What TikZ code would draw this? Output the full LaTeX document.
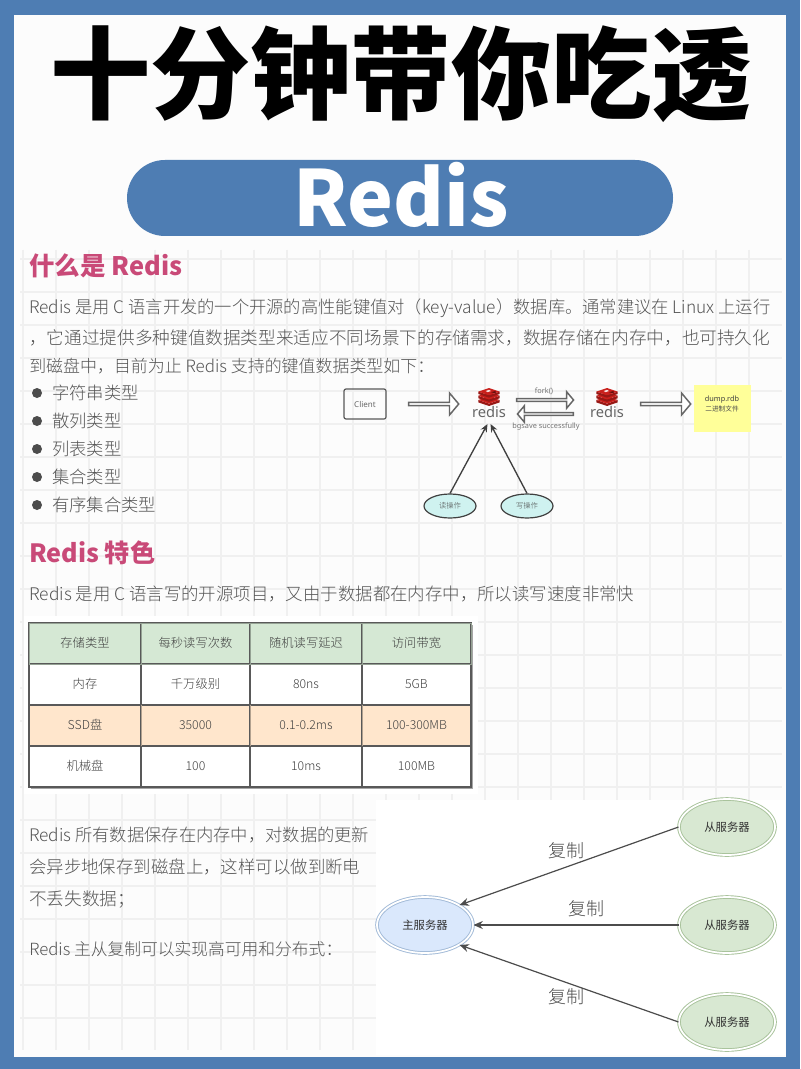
\documentclass[tikz,border=0pt]{standalone}
\usepackage{fontspec}
\setmainfont{Noto Sans CJK SC}
\newcommand{\cjkbold}{\bfseries}
\newfontfamily\cjklight{Noto Sans CJK SC Light}
\newfontfamily\latsans{Noto Sans}
\usetikzlibrary{shapes.geometric,shapes.arrows,arrows.meta,shapes.misc}
\definecolor{frameblue}{HTML}{4E7DB3}
\definecolor{pagewhite}{HTML}{FCFCFC}
\definecolor{gridc}{HTML}{F0F0F0}
\definecolor{pink}{HTML}{C94A78}
\definecolor{bodyc}{HTML}{555555}
\definecolor{hdrgreen}{HTML}{D5E8D4}
\definecolor{ssdorange}{HTML}{FFE6CC}
\definecolor{tealc}{HTML}{CFF2F0}
\definecolor{notey}{HTML}{FFFF99}
\definecolor{mastf}{HTML}{DAE8FC}
\definecolor{mastd}{HTML}{A3BBD8}
\definecolor{slavef}{HTML}{D8E8D2}
\definecolor{slaved}{HTML}{A9C39C}
\definecolor{redisred}{HTML}{C9201C}
\newcommand{\fitw}[2]{\resizebox{\dimexpr #1pt*3/4\relax}{!}{#2}}
\tikzset{
  px/.style={x=0.75pt,y=-0.75pt},
  bodytext/.style={anchor=west,inner sep=0pt,text=bodyc,font=\cjklight\fontsize{13}{13}\selectfont},
  heading/.style={anchor=west,inner sep=0pt,text=pink,font=\cjkbold\fontsize{19}{19}\selectfont},
  cell/.style={inner sep=0pt,text=black!75,font=\cjklight\fontsize{9.2}{10}\selectfont},
  tline/.style={draw=black!65,line width=0.9pt},
  hollow/.style={single arrow,draw=black!60,fill=white,line width=1.1pt,inner sep=0pt,minimum height=#1*0.75pt,minimum width=16.5pt,single arrow head extend=3pt,single arrow tip angle=100},
  redisword/.style={inner sep=0pt,text=black!60,font=\latsans\fontsize{11}{11}\selectfont},
  smalllab/.style={inner sep=0pt,text=black!55,font=\latsans\fontsize{5.5}{6}\selectfont},
  oval/.style={ellipse,draw=black!75,fill=tealc,line width=0.9pt,minimum width=39pt,minimum height=18pt,inner sep=0pt,text=black!70,font=\cjklight\fontsize{5.5}{6}\selectfont},
  master/.style={ellipse,double,double distance=1.3pt,draw=mastd,fill=mastf,line width=0.7pt,minimum width=72pt,minimum height=42pt,inner sep=0pt,text=black!80,font=\fontsize{8.5}{9}\selectfont},
  slave/.style={ellipse,double,double distance=1.3pt,draw=slaved,fill=slavef,line width=0.7pt,minimum width=72pt,minimum height=42pt,inner sep=0pt,text=black!80,font=\fontsize{8.5}{9}\selectfont},
  replic/.style={draw=black!70,line width=0.9pt,-{Stealth[length=7pt,width=6pt]}},
  readline/.style={draw=black!75,line width=1pt,-{Stealth[length=6pt,width=5pt]}},
  replab/.style={inner sep=0pt,text=black!70,font=\cjklight\fontsize{13.5}{14}\selectfont},
  bulletdot/.style={circle,fill=black!70,inner sep=0pt,minimum size=7.5pt},
}
\newcommand{\redislogo}[2]{%
  \begin{scope}[shift={(#1,#2)},x=0.5pt,y=-0.45pt]
    \fill[redisred!75!black] (-16,9) -- (0,15) -- (16,9) -- (16,5) -- (0,11) -- (-16,5) -- cycle;
    \fill[redisred] (-16,5) -- (0,-1) -- (16,5) -- (0,11) -- cycle;
    \fill[redisred!75!black] (-16,2) -- (0,8) -- (16,2) -- (16,-2) -- (0,4) -- (-16,-2) -- cycle;
    \fill[redisred] (-16,-2) -- (0,-8) -- (16,-2) -- (0,4) -- cycle;
    \fill[redisred!75!black] (-16,-5) -- (0,1) -- (16,-5) -- (16,-9) -- (0,-3) -- (-16,-9) -- cycle;
    \fill[redisred] (-16,-9) -- (0,-15) -- (16,-9) -- (0,-3) -- cycle;
    \fill[white!85!redisred] (-5,-10) -- (0,-12) -- (3,-10) -- (-2,-8) -- cycle;
    \fill[redisred!50!black] (3,-8) -- (10,-10) -- (10,-6) -- cycle;
  \end{scope}}
\begin{document}
\begin{tikzpicture}[px]
\useasboundingbox (0,0) rectangle (800,1069);
\fill[frameblue] (0,0) rectangle (800,1069);
\fill[pagewhite] (14,15) rectangle (786,1057);
% grid
\foreach \gx in {23,56,...,780} \draw[gridc,line width=0.8pt] (\gx,250) -- (\gx,1050);
\foreach \gy in {259,292,...,1050} \draw[gridc,line width=0.8pt] (20,\gy) -- (782,\gy);
\fill[white] (376,800) rectangle (785,1055);
\fill[white] (24,616) rectangle (478,794);
% title
\node[inner sep=0pt,text=black] (title) at (401,74) {\fitw{702}{\cjkbold\fontsize{75}{75}\selectfont 十分钟带你吃透}};
\node[rounded rectangle,fill=frameblue,minimum width=409.5pt,minimum height=57pt,inner sep=0pt] (pill) at (400,198) {};
\node[inner sep=0pt,text=white,font=\cjkbold\fontsize{58}{58}\selectfont] (redistitle) at (401,195) {Redis};
% section 1
\node[heading] (h1) at (29,266) {\fitw{153}{什么是 Redis}};
\node[bodytext] (l1) at (29,308) {\fitw{741}{Redis 是用 C 语言开发的一个开源的高性能键值对（key-value）数据库。通常建议在 Linux 上运行}};
\node[bodytext] (l2) at (29,338) {\fitw{741}{，它通过提供多种键值数据类型来适应不同场景下的存储需求，数据存储在内存中，也可持久化}};
\node[bodytext] (l3) at (29,366) {\fitw{405}{到磁盘中，目前为止 Redis 支持的键值数据类型如下：}};
\foreach \by/\bt/\bn in {393/字符串类型/a,421/散列类型/b,449/列表类型/c,477/集合类型/d,505/有序集合类型/e}{
  \node[bulletdot] (dot\bn) at (37,\by) {};
  \node[bodytext] (item\bn) at (52,\by) {\bt};
}
% RDB diagram
\node[draw=black!65,line width=0.9pt,rounded corners=1.5pt,minimum width=31.5pt,minimum height=22.5pt,inner sep=0pt,text=black!60,font=\latsans\fontsize{6}{6}\selectfont] (client) at (365,404) {Client};
\node[hollow=50] (a1) at (433,404) {};
\redislogo{489}{397}
\node[redisword] (r1) at (489,412) {redis};
\node[hollow=57,minimum width=12.5pt] (a2) at (544.5,400) {};
\node[hollow=56,minimum width=12.5pt,shape border rotate=180] (a3) at (546,414) {};
\node[smalllab] (fork) at (544,391) {fork()};
\node[smalllab] (bg) at (546,427) {bgsave successfully};
\redislogo{607}{397}
\node[redisword] (r2) at (607,412) {redis};
\node[hollow=50] (a4) at (665,404) {};
\node[fill=notey,minimum width=43pt,minimum height=35pt,inner sep=0pt] (note) at (722.5,408.5) {};
\node[inner sep=0pt,text=black!75,font=\latsans\bfseries\fontsize{5.5}{6}\selectfont] (dump) at (722,400) {dump.rdb};
\node[inner sep=0pt,text=black!70,font=\fontsize{5}{6}\selectfont] (bin) at (722,409) {二进制文件};
\node[oval] (rd) at (450,506) {读操作};
\node[oval] (wr) at (527,506) {写操作};
\coordinate (tipl) at (487.5,424);
\coordinate (tipr) at (490.5,424);
\draw[readline] (rd.north) -- (tipl);
\draw[readline] (wr.north) -- (tipr);
% section 2
\node[heading] (h2) at (29,553) {\fitw{126}{Redis 特色}};
\node[bodytext] (l4) at (29,594) {\fitw{605}{Redis 是用 C 语言写的开源项目，又由于数据都在内存中，所以读写速度非常快}};
% table
\fill[black!35] (31,625) rectangle (473,789);
\fill[white] (29,623) rectangle (471,787);
\fill[hdrgreen] (29,623) rectangle (471,664);
\fill[ssdorange] (29,705) rectangle (471,746);
\draw[tline] (29,623) rectangle (471,787);
\foreach \ty in {664,705,746} \draw[tline] (29,\ty) -- (471,\ty);
\foreach \tx in {141,250,362} \draw[tline] (\tx,623) -- (\tx,787);
\draw[hdrgreen!70!black,line width=0.6pt] (29,623) rectangle (471,664);
\foreach \tx in {141,250,362} \draw[hdrgreen!70!black,line width=0.6pt] (\tx,623) -- (\tx,664);
\foreach \tx in {141,250,362} \draw[ssdorange!70!black,line width=0.6pt] (\tx,705) -- (\tx,746);
\foreach \ra/\rb/\rc/\rd/\ry/\rn in {存储类型/每秒读写次数/随机读写延迟/访问带宽/643/a,内存/千万级别/80ns/5GB/684/b,SSD盘/35000/0.1-0.2ms/100-300MB/725/c,机械盘/100/10ms/100MB/766/d}{
  \node[cell] (c1\rn) at (85,\ry) {\ra};
  \node[cell] (c2\rn) at (195.5,\ry) {\rb};
  \node[cell] (c3\rn) at (306,\ry) {\rc};
  \node[cell] (c4\rn) at (416.5,\ry) {\rd};
}
% bottom text
\node[bodytext] (l5) at (29,835) {\fitw{340}{Redis 所有数据保存在内存中，对数据的更新}};
\node[bodytext] (l6) at (29,867) {\fitw{331}{会异步地保存到磁盘上，这样可以做到断电}};
\node[bodytext] (l7) at (29,899) {\fitw{106}{不丢失数据；}};
\node[bodytext] (l8) at (29,949) {\fitw{313}{Redis 主从复制可以实现高可用和分布式：}};
% replication
\node[master] (m) at (425,925) {主服务器};
\node[slave] (s1) at (727,827) {从服务器};
\node[slave] (s2) at (727,925) {从服务器};
\node[slave] (s3) at (727,1022) {从服务器};
\draw[replic] (s1.west) -- (m.30);
\draw[replic] (s2.west) -- (m.east);
\draw[replic] (s3.west) -- (m.-30);
\node[replab] (f1) at (566,851) {复制};
\node[replab] (f2) at (586,909) {复制};
\node[replab] (f3) at (566,997) {复制};
\end{tikzpicture}
\end{document}
